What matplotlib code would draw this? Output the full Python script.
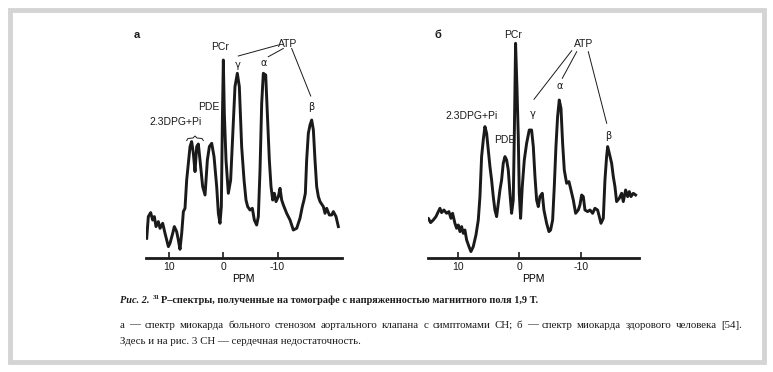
import numpy as np
import matplotlib.pyplot as plt
from matplotlib.patches import Rectangle

# ----- данные спектров (ppm, интенсивность в усл. ед.) -----
ppm_a = [14.15, 13.85, 13.42, 13.05, 12.74, 12.43, 12.0, 11.69, 11.2, 10.77,
         10.15, 9.85, 9.35, 9.05, 8.62, 8.31, 8.0, 7.69, 7.38, 7.08,
         6.77, 6.46, 6.15, 5.85, 5.54, 5.23, 4.92, 4.62, 4.31, 3.82,
         3.38, 2.95, 2.58, 2.15, 1.72, 1.23, 0.92, 0.62, 0.37, 0.18,
         0.0, -0.18, -0.49, -0.92, -1.35, -1.72, -2.15, -2.58, -2.95, -3.38,
         -3.82, -4.18, -4.49, -4.92, -5.35, -5.72, -6.15, -6.46, -6.77, -7.08,
         -7.38, -7.82, -8.12, -8.49, -8.8, -9.11, -9.42, -9.72, -10.15, -10.46,
         -10.77, -11.08, -11.69, -12.31, -12.92, -13.54, -14.15, -14.58, -14.89, -15.14,
         -15.38, -15.69, -16.0, -16.31, -16.62, -16.92, -17.23, -17.54, -17.85, -18.46,
         -18.77, -19.08, -19.57, -20.0, -20.31, -20.8, -21.23]
int_a = [20, 41.7, 45.7, 38.3, 41.7, 31.7, 36.7, 30, 35, 25,
         11.7, 15, 25, 31.7, 26.7, 18.3, 9, 25, 46.7, 50,
         78.3, 95, 111.7, 116.7, 105, 86.7, 111.7, 114.3, 98.3, 71.7,
         63.3, 98.3, 111.7, 115, 101.7, 71.7, 45, 35, 51.7, 138.3,
         198.3, 145, 98.3, 65, 78.3, 121.7, 171.7, 185, 171.7, 111.7,
         78.3, 58.3, 51.7, 48.3, 50, 38.3, 33.3, 41.7, 88.3, 155,
         185, 183.3, 145, 98.3, 71.7, 58.3, 65, 56.7, 61.7, 70,
         58.3, 53.3, 45, 38.3, 28.3, 30, 40, 51.7, 58.3, 65,
         98.3, 125, 133.3, 138.3, 128.3, 98.3, 71.7, 61.7, 56.7, 51.7,
         45, 50, 43.3, 43.3, 46.7, 41.7, 31.7]

ppm_b = [15.25, 14.86, 14.48, 14.05, 13.61, 13.23, 12.96, 12.69, 12.31, 11.88,
         11.5, 11.17, 10.9, 10.52, 10.24, 9.97, 9.7, 9.43, 9.16, 8.89,
         8.61, 8.23, 7.91, 7.53, 7.09, 6.71, 6.44, 6.17, 5.9, 5.63,
         5.35, 5.08, 4.81, 4.54, 4.27, 4.0, 3.72, 3.45, 3.18, 2.91,
         2.64, 2.36, 2.09, 1.82, 1.55, 1.28, 1.01, 0.84, 0.63, 0.41,
         0.19, 0.03, -0.19, -0.46, -0.79, -1.17, -1.6, -1.98, -2.26, -2.53,
         -2.8, -3.07, -3.34, -3.72, -3.99, -4.43, -4.81, -5.08, -5.41, -5.68,
         -5.95, -6.22, -6.49, -6.77, -7.04, -7.31, -7.69, -8.07, -8.4, -8.78,
         -9.16, -9.59, -9.86, -10.14, -10.41, -10.68, -11.12, -11.5, -11.93, -12.31,
         -12.74, -13.02, -13.29, -13.67, -13.94, -14.21, -14.38, -14.65, -15.03, -15.3,
         -15.57, -15.84, -16.28, -16.66, -16.93, -17.31, -17.64, -17.91, -18.18, -18.56,
         -18.94]
int_b = [36.7, 40, 35.7, 38.3, 41.7, 46.7, 50, 45.7, 48.3, 45,
         46.7, 40, 45, 35, 30, 33.3, 26.7, 31.7, 25, 28.3,
         18.3, 11.7, 6.7, 11.7, 23.3, 38.3, 61.7, 101.7, 118.3, 131.7,
         125, 108.3, 91.7, 78.3, 61.7, 48.3, 41.7, 55, 68.3, 78.3,
         95, 101.7, 98.3, 88.3, 65, 45, 58.3, 121.7, 215, 171.7,
         121.7, 65, 40, 71.7, 98.3, 115, 128.3, 128.3, 111.7, 81.7,
         58.3, 51.7, 61.7, 65, 48.3, 35, 26.7, 28.3, 38.3, 71.7,
         111.7, 141.7, 158.3, 150, 115, 88.3, 75, 76.7, 68.3, 58.3,
         45, 48.3, 53.3, 63.3, 61.7, 48.3, 46.7, 48.3, 45, 50,
         48.3, 41.7, 35, 40, 78.3, 101.7, 111.7, 105, 95, 81.7,
         71.7, 56.7, 60, 65, 56.7, 68.3, 61.7, 66.7, 61.7, 65,
         63.3]

ticks = [10, 0, -10]
tick_labels = ['10', '0', '-10']

caption_1 = ['Рис. 2. ', '31', 'P–спектры, полученные на томографе '
             'с напряженностью магнитного поля 1,9 Т.']
caption_2 = ('а — спектр миокарда больного стенозом аортального клапана '
             'с симптомами СН; б — спектр миокарда здорового человека [54].')
caption_3 = 'Здесь и на рис. 3 СН — сердечная недостаточность.'

W, H = 773, 372
fig = plt.figure(figsize=(W / 100, H / 100), dpi=100)
renderer = fig.canvas.get_renderer()


def px(x, y):
    # пиксели картинки -> доли фигуры
    return x / W, 1 - y / H


def width_px(t):
    return t.get_window_extent(renderer).width


# рамка вокруг рисунка
fig.patches.append(Rectangle((10 / W, 1 - 362 / H), 754 / W, 352 / H,
                             transform=fig.transFigure, fill=False,
                             edgecolor='#d4d4d4', linewidth=3.5))

ax_top = 20
ax_bot = 258.3
ymax = ax_bot - ax_top


def panel(left, right, xlo, xhi, x, y):
    l, b = px(left, ax_bot)
    ax = fig.add_axes([l, b, (right - left) / W, (ax_bot - ax_top) / H])
    ax.plot(x, y, color='#1a1a1a', lw=2.1, solid_joinstyle='round')
    ax.set_xlim(xlo, xhi)
    ax.set_ylim(0, ymax)
    for s in ['top', 'left', 'right']:
        ax.spines[s].set_visible(False)
    ax.spines['bottom'].set_linewidth(2.0)
    ax.spines['bottom'].set_color('#1a1a1a')
    ax.set_yticks([])
    ax.set_xticks(ticks)
    ax.set_xticklabels(tick_labels, family='Liberation Sans', fontsize=7.5)
    ax.tick_params(axis='x', direction='in', length=4, width=1.2, pad=3,
                   colors='#1a1a1a')
    ax.set_xlabel('PPM', family='Liberation Sans', fontsize=7.5, labelpad=1)
    ax.patch.set_alpha(0)
    return ax


ax1 = panel(146, 341.7, 14.28, -21.85, ppm_a, int_a)
ax2 = panel(428.3, 639.3, 14.86, -19.54, ppm_b, int_b)

sans = dict(family='Liberation Sans', fontsize=7.5, color='#1a1a1a',
            ha='center', va='center')


def label(x, y, s, **kw):
    opts = dict(sans)
    opts.update(kw)
    fig.text(*px(x, y), s, **opts)


def line(x0, y0, x1, y1):
    a, b = px(x0, y0)
    c, d = px(x1, y1)
    fig.add_artist(plt.Line2D([a, c], [b, d], color='#1a1a1a', lw=0.7,
                              transform=fig.transFigure))


# подписи панели а
label(137, 35, 'а', fontweight='bold', fontsize=8)
label(220.5, 46.7, 'PCr')
label(288, 44, 'ATP')
label(237.5, 65.5, 'γ', family='DejaVu Sans', fontsize=7)
label(263.3, 62.5, 'α', family='DejaVu Sans', fontsize=7)
label(311.7, 107, 'β', family='DejaVu Sans', fontsize=7)
label(209, 106.7, 'PDE')
label(175.8, 121.7, '2.3DPG+Pi')
line(278.3, 45, 238.3, 56)
line(283.3, 48.5, 268.3, 56.7)
line(291.7, 48.5, 310.7, 96)
# фигурная скобка над 2.3DPG+Pi
bx = np.array([186.7, 188.0, 193.0, 195.0, 197.0, 202.0, 203.3])
by = np.array([140.5, 138.5, 138.0, 136.0, 138.0, 138.5, 140.5])
fig.add_artist(plt.Line2D(bx / W, 1 - by / H, color='#1a1a1a', lw=0.7,
                          transform=fig.transFigure))

# подписи панели б
label(438.3, 35, 'б', fontweight='bold', fontsize=8)
label(513.3, 35, 'PCr')
label(584, 44, 'ATP')
label(532.7, 114.3, 'γ', family='DejaVu Sans', fontsize=7)
label(560, 86, 'α', family='DejaVu Sans', fontsize=7)
label(608.3, 136, 'β', family='DejaVu Sans', fontsize=7)
label(471.7, 115.7, '2.3DPG+Pi')
label(504.3, 140, 'PDE')
line(571.7, 50.7, 534, 99.3)
line(576.7, 51.7, 562.3, 78.3)
line(588.3, 51.7, 606.7, 123.3)

# ----- подпись к рисунку -----
serif = dict(family='Liberation Serif', color='#1a1a1a', va='baseline',
             ha='left')
x = 120
t = fig.text(*px(x, 303), caption_1[0], fontsize=7.4, fontweight='bold',
             style='italic', **serif)
x += width_px(t) + 1
t = fig.text(*px(x, 299), caption_1[1], fontsize=5, fontweight='bold', **serif)
x += width_px(t) + 0.5
fig.text(*px(x, 303), caption_1[2], fontsize=7.4, fontweight='bold', **serif)

# вторая строка выровнена по ширине (до 742 px)
words = caption_2.split(' ')
arts = [fig.text(0, 0, w, fontsize=7.8, **serif) for w in words]
widths = [width_px(a) for a in arts]
gap = (742 - 120 - sum(widths)) / (len(words) - 1)
x = 120
for a, w in zip(arts, widths):
    a.set_position(px(x, 327.5))
    x += w + gap

fig.text(*px(120, 343.5), caption_3, fontsize=7.8, **serif)

fig.savefig('out.png', dpi=100)
